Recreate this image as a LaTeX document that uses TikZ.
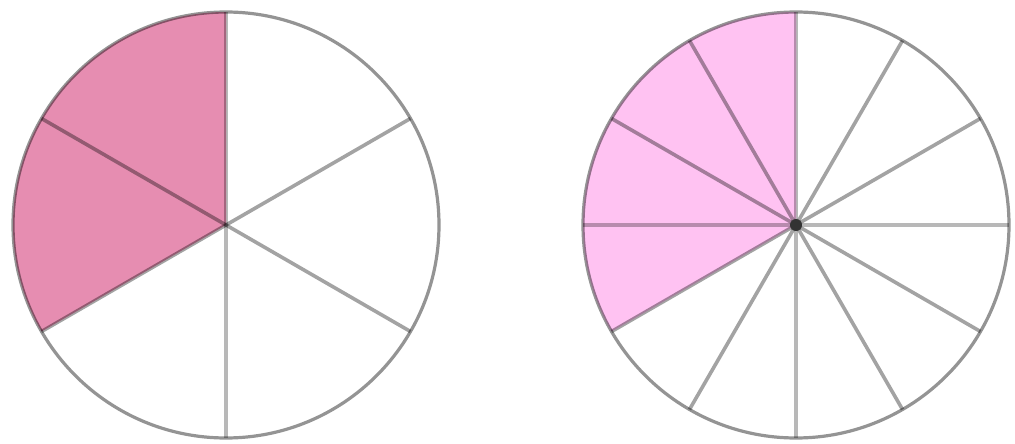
\documentclass[tikz,border=0pt]{standalone}
\definecolor{darkpink}{HTML}{E68DB1}
\definecolor{lightpink}{HTML}{FFC2F2}
\tikzset{
  spoke/.style={draw=black, draw opacity=0.36, line width=3.6pt, line cap=butt},
  vspoke/.style={draw=black, draw opacity=0.28, line width=4.5pt, line cap=butt},
  rim/.style={draw=black, draw opacity=0.42, line width=3.2pt},
}
\begin{document}
\begin{tikzpicture}[x=1pt,y=-1pt]
\useasboundingbox (0,0) rectangle (1015,444);
\coordinate (L) at (226,225);
\coordinate (R) at (796,225);
\def\r{213}
% left circle: sixths
\fill[darkpink] (L) -- ++(0,-\r) arc[start angle=-90,end angle=-210,radius=\r] -- cycle;
\foreach \a in {30,150,210,330}{
  \draw[spoke] (L) -- ++({cos(\a)*\r},{-sin(\a)*\r});
}
\foreach \a in {90,270}{
  \draw[vspoke] (L) -- ++({cos(\a)*\r},{-sin(\a)*\r});
}
\draw[rim] (L) circle[radius=\r];
% right circle: twelfths
\fill[lightpink] (R) -- ++(0,-\r) arc[start angle=-90,end angle=-210,radius=\r] -- cycle;
\foreach \a in {30,60,120,150,210,240,300,330}{
  \draw[spoke] (R) -- ++({cos(\a)*\r},{-sin(\a)*\r});
}
\foreach \a in {0,90,180,270}{
  \draw[vspoke] (R) -- ++({cos(\a)*\r},{-sin(\a)*\r});
}
\draw[rim] (R) circle[radius=\r];
\fill[black!80] (R) circle[radius=6];
\end{tikzpicture}
\end{document}
